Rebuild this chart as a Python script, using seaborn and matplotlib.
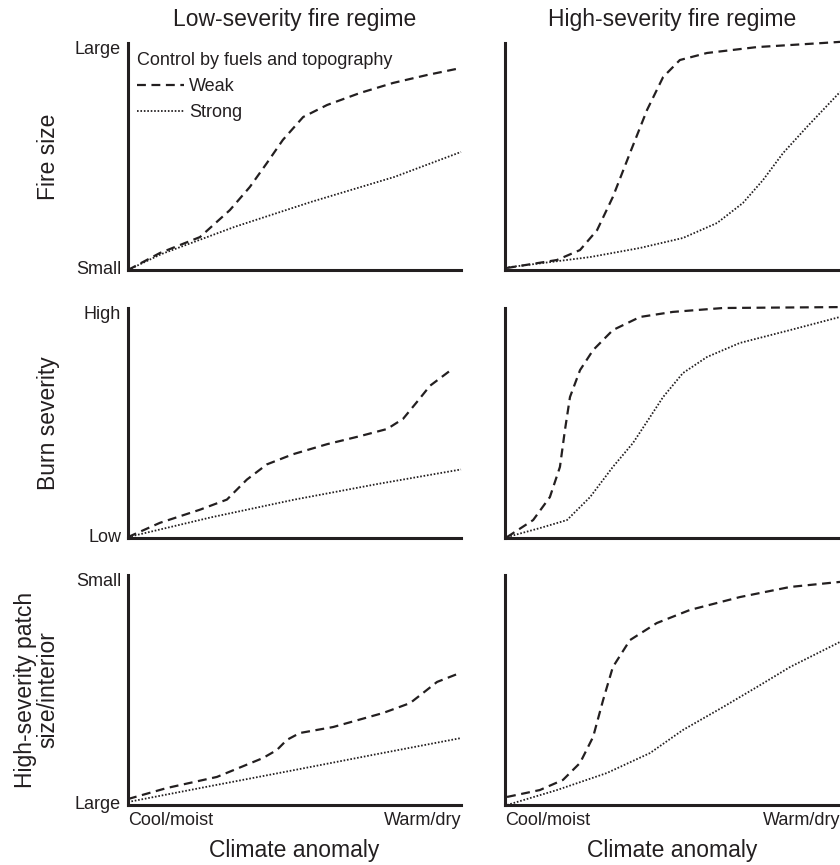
import seaborn as sns
import matplotlib.pyplot as plt
from matplotlib.lines import Line2D

sns.set_theme(style="white")
plt.rcParams['font.family'] = ['Liberation Sans', 'DejaVu Sans']

INK = '#231f20'

# Column titles, row labels, tick labels
col_titles = ['Low-severity fire regime', 'High-severity fire regime']
row_labels = ['Fire size', 'Burn severity', 'High-severity patch\nsize/interior']
row_ticks = [['Small', 'Large'], ['Low', 'High'], ['Large', 'Small']]
x_ticks = ['Cool/moist', 'Warm/dry']
x_label = 'Climate anomaly'
legend_title = 'Control by fuels and topography'
legend_labels = ['Weak', 'Strong']

# Fire size, low-severity regime
size_low_weak_x = [0, 0.096, 0.216, 0.306, 0.366, 0.417, 0.465, 0.526, 0.598, 0.697, 0.796, 0.898, 1.0]
size_low_weak_y = [0, 0.075, 0.145, 0.264, 0.366, 0.471, 0.573, 0.674, 0.727, 0.780, 0.824, 0.859, 0.890]
size_low_strong_x = [0, 0.1, 0.32, 0.55, 0.8, 1.0]
size_low_strong_y = [0, 0.07, 0.19, 0.30, 0.41, 0.52]

# Fire size, high-severity regime
size_high_weak_x = [0.006, 0.155, 0.224, 0.275, 0.322, 0.373, 0.424, 0.472, 0.522, 0.603, 0.752, 0.949, 1.0]
size_high_weak_y = [0.009, 0.044, 0.088, 0.176, 0.322, 0.515, 0.705, 0.850, 0.925, 0.956, 0.982, 1.0, 1.005]
size_high_strong_x = [0, 0.254, 0.403, 0.531, 0.633, 0.71, 0.77, 0.83, 0.901, 1.0]
size_high_strong_y = [0.01, 0.057, 0.097, 0.141, 0.207, 0.295, 0.396, 0.515, 0.63, 0.784]

# Burn severity, low-severity regime
sev_low_weak_x = [0, 0.096, 0.216, 0.297, 0.357, 0.417, 0.495, 0.598, 0.697, 0.778, 0.826, 0.868, 0.907, 0.976]
sev_low_weak_y = [0.004, 0.066, 0.123, 0.167, 0.254, 0.32, 0.364, 0.408, 0.443, 0.474, 0.518, 0.592, 0.662, 0.737]
sev_low_strong_x = [0, 0.25, 0.5, 0.75, 1.0]
sev_low_strong_y = [0.004, 0.09, 0.167, 0.235, 0.298]

# Burn severity, high-severity regime
sev_high_weak_x = [0.006, 0.084, 0.134, 0.164, 0.179, 0.194, 0.224, 0.263, 0.322, 0.403, 0.501, 0.651, 1.0]
sev_high_weak_y = [0.004, 0.078, 0.178, 0.309, 0.47, 0.613, 0.73, 0.817, 0.904, 0.961, 0.983, 1.0, 1.004]
sev_high_strong_x = [0.006, 0.104, 0.185, 0.254, 0.322, 0.382, 0.433, 0.472, 0.531, 0.603, 0.701, 0.851, 1.0]
sev_high_strong_y = [0.004, 0.043, 0.078, 0.178, 0.309, 0.413, 0.526, 0.613, 0.717, 0.787, 0.848, 0.904, 0.961]

# Patch size/interior, low-severity regime
patch_low_weak_x = [0, 0.117, 0.267, 0.405, 0.447, 0.477, 0.516, 0.616, 0.766, 0.847, 0.886, 0.928, 0.997]
patch_low_weak_y = [0.026, 0.074, 0.122, 0.204, 0.239, 0.283, 0.313, 0.339, 0.4, 0.443, 0.487, 0.535, 0.574]
patch_low_strong_x = [0, 0.25, 0.5, 0.75, 1.0]
patch_low_strong_y = [0.013, 0.083, 0.152, 0.222, 0.291]

# Patch size/interior, high-severity regime
patch_high_weak_x = [0.006, 0.104, 0.173, 0.224, 0.263, 0.293, 0.322, 0.373, 0.453, 0.552, 0.701, 0.851, 1.0]
patch_high_weak_y = [0.035, 0.065, 0.109, 0.183, 0.296, 0.457, 0.6, 0.717, 0.791, 0.848, 0.904, 0.948, 0.97]
patch_high_strong_x = [0.006, 0.155, 0.304, 0.433, 0.531, 0.651, 0.752, 0.851, 1.0]
patch_high_strong_y = [0, 0.065, 0.139, 0.226, 0.326, 0.426, 0.513, 0.6, 0.709]

panels = [
    [(size_low_weak_x, size_low_weak_y, size_low_strong_x, size_low_strong_y),
     (size_high_weak_x, size_high_weak_y, size_high_strong_x, size_high_strong_y)],
    [(sev_low_weak_x, sev_low_weak_y, sev_low_strong_x, sev_low_strong_y),
     (sev_high_weak_x, sev_high_weak_y, sev_high_strong_x, sev_high_strong_y)],
    [(patch_low_weak_x, patch_low_weak_y, patch_low_strong_x, patch_low_strong_y),
     (patch_high_weak_x, patch_high_weak_y, patch_high_strong_x, patch_high_strong_y)],
]

weak_style = dict(color=INK, lw=1.6, linestyle=(0, (4, 2.5)))
strong_style = dict(color=INK, lw=1.3, linestyle=(0, (0.9, 1.0)))

W, H = 840, 865
fig = plt.figure(figsize=(W / 100, H / 100), dpi=100)

col_px = [(128, 333), (505, 335)]
row_px = [(43, 270), (308, 538), (575, 805)]

for r in range(3):
    for c in range(2):
        left, width = col_px[c]
        top, bottom = row_px[r]
        ax = fig.add_axes([left / W, 1 - bottom / H, width / W, (bottom - top) / H])
        wx, wy, sx, sy = panels[r][c]
        sns.lineplot(x=wx, y=wy, ax=ax, sort=False, clip_on=False, **weak_style)
        sns.lineplot(x=sx, y=sy, ax=ax, sort=False, clip_on=False, **strong_style)
        ax.set_xlim(0, 1)
        ax.set_ylim(0, 1)
        ax.set_facecolor('white')
        for s in ['top', 'right']:
            ax.spines[s].set_visible(False)
        for s in ['left', 'bottom']:
            ax.spines[s].set_visible(True)
            ax.spines[s].set_linewidth(2.2)
            ax.spines[s].set_color(INK)
        ax.tick_params(length=0, pad=5, labelsize=13, colors=INK)

        if c == 0:
            ax.set_yticks([0.01, 0.98])
            ax.set_yticklabels(row_ticks[r])
            ax.set_ylabel(row_labels[r], fontsize=16.5, color=INK, linespacing=1.0)
            ax.yaxis.set_label_coords(-0.205, 0.5)
        else:
            ax.set_yticks([])

        if r == 2:
            ax.set_xticks([0, 1])
            labs = ax.set_xticklabels(x_ticks)
            labs[0].set_ha('left')
            labs[1].set_ha('right')
            ax.set_xlabel(x_label, fontsize=16.5, color=INK, labelpad=7)
        else:
            ax.set_xticks([])

        if r == 0:
            ax.set_title(col_titles[c], fontsize=16.5, color=INK, pad=12)

        if r == 0 and c == 0:
            handles = [Line2D([], [], **weak_style), Line2D([], [], **strong_style)]
            leg = ax.legend(handles, legend_labels, title=legend_title, loc='upper left',
                            bbox_to_anchor=(0.0, 1.0), frameon=False, fontsize=13,
                            title_fontsize=13, handlelength=2.6, handletextpad=0.3,
                            labelspacing=0.5, borderaxespad=0.3, borderpad=0.2)
            leg._legend_box.align = 'left'
            for t in leg.get_texts():
                t.set_color(INK)
            leg.get_title().set_color(INK)

fig.savefig('out.png', dpi=100, facecolor='white')
plt.close()
